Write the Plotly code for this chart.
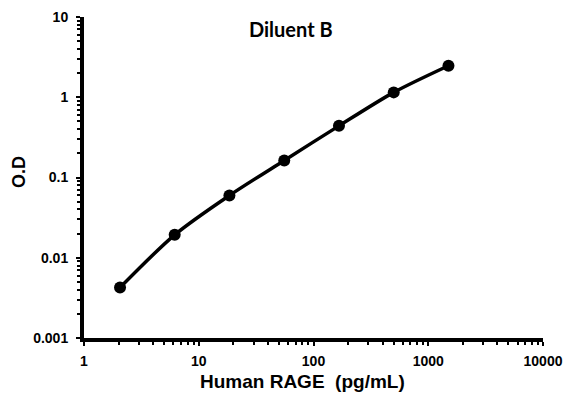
import plotly.graph_objects as go

conc = [2.06, 6.17, 18.5, 55.6, 166.7, 500, 1500]
od = [0.00425, 0.0193, 0.0597, 0.163, 0.44, 1.15, 2.47]

x_tickvals = [1, 10, 100, 1000, 10000]
x_ticktext = ["1", "10", "100", "1000", "10000"]
y_tickvals = [0.001, 0.01, 0.1, 1, 10]
y_ticktext = ["0.001", "0.01", "0.1", "1", "10"]

x_minor = [m * d for d in [1, 10, 100, 1000] for m in range(2, 10)]
y_minor = [m * d for d in [0.001, 0.01, 0.1, 1] for m in range(2, 10)]

title_text = "Diluent B"
x_title = "Human RAGE  (pg/mL)"
y_title = "O.D"

fig = go.Figure()
fig.add_trace(go.Scatter(
    x=conc, y=od, mode="lines+markers",
    line=dict(color="black", width=3.5, shape="spline", smoothing=0.8),
    marker=dict(color="black", size=12),
    showlegend=False,
))

font = "Liberation Sans, Arial, sans-serif"
axis_common = dict(
    type="log", showgrid=False, zeroline=False,
    showline=True, linecolor="black", linewidth=4,
    ticks="outside", ticklen=4, tickwidth=2, tickcolor="black",
    tickfont=dict(family=font, size=14, color="black", weight="bold"),
    minor=dict(ticks="outside", ticklen=3, tickwidth=2, tickcolor="black"),
)

fig.update_xaxes(
    **axis_common,
    range=[0, 4],
    tickvals=x_tickvals, ticktext=x_ticktext,
    ticklabelstandoff=3,
)
fig.update_xaxes(minor_tickvals=x_minor)
fig.update_yaxes(
    **axis_common,
    range=[-3, 1],
    tickvals=y_tickvals, ticktext=y_ticktext,
    ticklabelstandoff=5,
)
fig.update_yaxes(minor_tickvals=y_minor)

fig.add_annotation(
    text=title_text, xref="paper", yref="paper", x=0.45, y=0.963,
    showarrow=False, xanchor="center", yanchor="middle",
    font=dict(family="Lato, Open Sans, sans-serif", size=20, color="black", weight="bold"),
)
fig.add_annotation(
    text=x_title, xref="paper", yref="paper", x=0.475, y=-0.137,
    showarrow=False, xanchor="center", yanchor="middle", borderpad=0,
    font=dict(family=font, size=19, color="black", weight="bold"),
)
fig.add_annotation(
    text=y_title, xref="paper", yref="paper", x=-0.1416, y=0.517,
    showarrow=False, xanchor="center", yanchor="middle", textangle=-90,
    font=dict(family=font, size=18, color="black", weight="bold"),
)

fig.update_layout(
    width=579, height=398,
    margin=dict(l=76, r=44, t=9, b=68, autoexpand=False),
    paper_bgcolor="white", plot_bgcolor="white",
)

fig.write_html("out.html")
